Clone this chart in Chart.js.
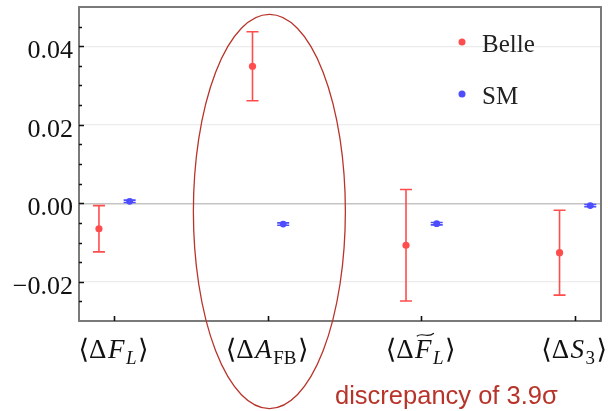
<!DOCTYPE html>
<html>
<head>
<meta charset="utf-8">
<script src="https://cdn.jsdelivr.net/npm/chart.js@4"></script>
<style>
  html, body { margin: 0; padding: 0; background: #fff; }
  canvas { display: block; }
</style>
</head>
<body>
<canvas id="chart" width="608" height="411"></canvas>
<script>
// observables (x position = category index)
const categories = [0, 1, 2, 3];
const categoryLabels = [
    [{ t: '⟨Δ' }, { t: 'F', it: true }, { t: 'L', it: true, sub: true }, { t: '⟩' }],
    [{ t: '⟨Δ' }, { t: 'A', it: true }, { t: 'FB', sub: true }, { t: '⟩' }],
    [{ t: '⟨Δ' }, { t: 'F', it: true, tilde: true }, { t: 'L', it: true, sub: true }, { t: '⟩' }],
    [{ t: '⟨Δ' }, { t: 'S', it: true }, { t: '3', sub: true }, { t: '⟩' }]
];
const belleValues = [-0.0065, 0.0349, -0.0107, -0.0126];
const belleErrors = [0.0059, 0.0088, 0.0142, 0.0108];
const smValues = [0.0005, -0.0053, -0.0052, -0.0006];
const smErrors = [0.0003, 0.0003, 0.0003, 0.0003];
const yTicks = [-0.02, 0.00, 0.02, 0.04];
const yMin = -0.03, yMax = 0.05, yMinorStep = 0.005;
const xMin = -0.23, xMax = 3.17;
const pointShift = 0.1;

// ellipse around the A_FB discrepancy (centre, radii in data units)
const highlight = { x: 1.01, y: -0.0021, rx: 0.495, ry: 0.0502 };
const highlightText = 'discrepancy of 3.9σ';

const belleColor = '#ff4d4d';
const smColor = '#4d4dff';
const noteColor = '#b8342a';
const serif = "'Liberation Serif', 'DejaVu Serif', serif";

function drawErrorBars(chart, xs, ys, errs, color) {
    const ctx = chart.ctx;
    const x = chart.scales.x, y = chart.scales.y;
    ctx.save();
    ctx.strokeStyle = color;
    ctx.lineWidth = 1.6;
    xs.forEach((xv, i) => {
        const px = x.getPixelForValue(xv);
        const top = y.getPixelForValue(ys[i] + errs[i]);
        const bot = y.getPixelForValue(ys[i] - errs[i]);
        ctx.beginPath();
        ctx.moveTo(px, top); ctx.lineTo(px, bot);
        ctx.moveTo(px - 6, top); ctx.lineTo(px + 6, top);
        ctx.moveTo(px - 6, bot); ctx.lineTo(px + 6, bot);
        ctx.stroke();
    });
    ctx.restore();
}

function drawMath(ctx, parts, cx, baseline, size) {
    const gap = 1.5;
    const fontFor = p => `${p.it ? 'italic ' : ''}${p.sub ? Math.round(size * 0.7) : size}px ${serif}`;
    let total = 0;
    const widths = parts.map(p => {
        ctx.font = fontFor(p);
        const w = ctx.measureText(p.t).width + gap;
        total += w;
        return w;
    });
    let xx = cx - total / 2;
    ctx.textAlign = 'left';
    ctx.textBaseline = 'alphabetic';
    parts.forEach((p, i) => {
        ctx.font = fontFor(p);
        const by = p.sub ? baseline + size * 0.22 : baseline;
        ctx.fillText(p.t, xx, by);
        if (p.tilde) {
            const w = widths[i];
            const ty = baseline - size * 0.86;
            const x0 = xx + w * 0.1, x1 = xx + w * 1.05;
            ctx.save();
            ctx.lineWidth = 1.1;
            ctx.beginPath();
            ctx.moveTo(x0, ty + 1.5);
            ctx.bezierCurveTo(x0 + (x1 - x0) * 0.3, ty - 3, x0 + (x1 - x0) * 0.6, ty + 4, x1, ty - 1.5);
            ctx.stroke();
            ctx.restore();
        }
        xx += widths[i];
    });
}

const decorPlugin = {
    id: 'decor',
    beforeDatasetsDraw(chart) {
        drawErrorBars(chart, categories.map(c => c - pointShift), belleValues, belleErrors, belleColor);
        drawErrorBars(chart, categories.map(c => c + pointShift), smValues, smErrors, smColor);
    },
    afterDraw(chart) {
        const ctx = chart.ctx;
        const a = chart.chartArea;
        const x = chart.scales.x, y = chart.scales.y;
        ctx.save();

        // frame
        ctx.strokeStyle = '#7a7a7a';
        ctx.lineWidth = 2;
        ctx.strokeRect(a.left, a.top, a.right - a.left, a.bottom - a.top);

        // inward ticks
        ctx.strokeStyle = '#111';
        ctx.lineWidth = 1.6;
        ctx.beginPath();
        for (let v = yMin + yMinorStep; v < yMax - 1e-9; v += yMinorStep) {
            const py = Math.round(y.getPixelForValue(v)) + 0.5;
            const major = yTicks.some(t => Math.abs(t - v) < 1e-9);
            ctx.moveTo(a.left, py);
            ctx.lineTo(a.left + (major ? 5 : 3), py);
        }
        categories.forEach(c => {
            const px = Math.round(x.getPixelForValue(c)) + 0.5;
            ctx.moveTo(px, a.bottom);
            ctx.lineTo(px, a.bottom - 5);
        });
        ctx.stroke();

        // y tick labels
        ctx.fillStyle = '#111';
        ctx.font = `26px ${serif}`;
        ctx.textAlign = 'right';
        ctx.textBaseline = 'alphabetic';
        yTicks.forEach(t => {
            const s = (t < 0 ? '\u2212' : '') + Math.abs(t).toFixed(2);
            ctx.fillText(s, a.left - 6, y.getPixelForValue(t) + 12);
        });

        // category labels
        ctx.strokeStyle = '#111';
        categories.forEach((c, i) => {
            drawMath(ctx, categoryLabels[i], x.getPixelForValue(c), 358, 27);
        });

        // legend
        const legend = [['Belle', belleColor, 42], ['SM', smColor, 94]];
        legend.forEach(([name, col, ly]) => {
            ctx.fillStyle = col;
            ctx.beginPath();
            ctx.arc(462, ly, 3.5, 0, Math.PI * 2);
            ctx.fill();
            ctx.fillStyle = '#222';
            ctx.font = `25px ${serif}`;
            ctx.textAlign = 'left';
            ctx.fillText(name, 482, ly + 9.5);
        });

        // highlight ellipse and note
        const cx = x.getPixelForValue(highlight.x);
        const cy = y.getPixelForValue(highlight.y);
        const rx = x.getPixelForValue(highlight.x + highlight.rx) - cx;
        const ry = cy - y.getPixelForValue(highlight.y + highlight.ry);
        ctx.strokeStyle = noteColor;
        ctx.lineWidth = 1.3;
        ctx.beginPath();
        ctx.ellipse(cx, cy, rx, ry, 0, 0, Math.PI * 2);
        ctx.stroke();

        ctx.fillStyle = noteColor;
        ctx.font = "25.5px 'Liberation Sans', sans-serif";
        ctx.textAlign = 'left';
        ctx.fillText(highlightText, 335, 404);
        ctx.restore();
    }
};

new Chart(document.getElementById('chart'), {
    type: 'scatter',
    data: {
        datasets: [
            {
                label: 'Belle',
                data: categories.map((c, i) => ({ x: c - pointShift, y: belleValues[i] })),
                backgroundColor: belleColor,
                borderWidth: 0,
                pointRadius: 3.6
            },
            {
                label: 'SM',
                data: categories.map((c, i) => ({ x: c + pointShift, y: smValues[i] })),
                backgroundColor: smColor,
                borderWidth: 0,
                pointRadius: 3.4
            }
        ]
    },
    options: {
        responsive: false,
        devicePixelRatio: 1,
        animation: false,
        layout: { padding: { left: 79, top: 7, right: 7, bottom: 90 } },
        plugins: { legend: { display: false }, tooltip: { enabled: false } },
        scales: {
            x: {
                type: 'linear',
                min: xMin, max: xMax,
                ticks: { display: false },
                grid: { display: false, drawTicks: false },
                border: { display: false }
            },
            y: {
                min: yMin, max: yMax,
                afterBuildTicks: axis => { axis.ticks = yTicks.map(v => ({ value: v })); },
                ticks: { display: false },
                grid: {
                    drawTicks: false,
                    color: ctx => Math.abs(ctx.tick.value) < 1e-9 ? '#c4c4c4' : '#ececec',
                    lineWidth: ctx => Math.abs(ctx.tick.value) < 1e-9 ? 1.4 : 1.2
                },
                border: { display: false }
            }
        }
    },
    plugins: [decorPlugin]
});
</script>
</body>
</html>
